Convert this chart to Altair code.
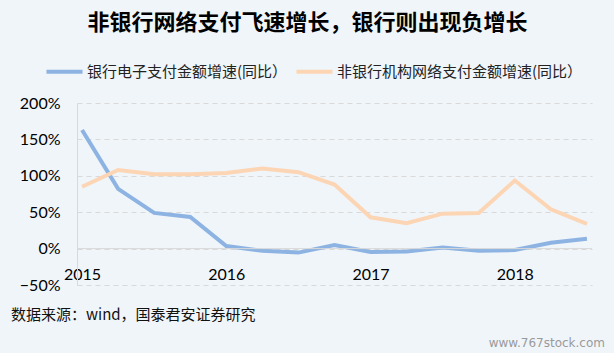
import altair as alt
import pandas as pd

quarters = [2015 + i * 0.25 for i in range(15)]
bank = [1.63, 0.82, 0.49, 0.435, 0.035, -0.03, -0.055, 0.05, -0.045, -0.04, 0.014, -0.03, -0.02, 0.08, 0.136]
nonbank = [0.85, 1.08, 1.02, 1.02, 1.04, 1.10, 1.05, 0.88, 0.43, 0.35, 0.48, 0.49, 0.935, 0.54, 0.34]
series_names = ["银行电子支付金额增速(同比）", "非银行机构网络支付金额增速(同比）"]
colors = ["#8db3e2", "#fcd5b5"]
year_ticks = [2015, 2016, 2017, 2018]
y_ticks = [-0.5, 0.0, 0.5, 1.0, 1.5, 2.0]

rows = []
for q, b, n in zip(quarters, bank, nonbank):
    rows.append({"t": q, "v": b, "s": series_names[0]})
    rows.append({"t": q, "v": n, "s": series_names[1]})
df = pd.DataFrame(rows)

FONT = "Noto Sans CJK SC"
NUM_FONT = "Lato"

xscale = alt.Scale(domain=[2014.965, 2018.535], nice=False, zero=False)
yscale = alt.Scale(domain=[-0.5, 2.0], nice=False, zero=False)

yaxis = alt.Axis(values=y_ticks, tickCount=12, format=".0%", title=None, grid=True,
                 gridDash=[5, 4], gridColor="#d9d9d9", gridWidth=1,
                 domain=True, domainColor="#d9d9d9", ticks=False,
                 labelPadding=17, labelFontSize=16, labelFont=NUM_FONT,
                 labelColor="#000000", labelOverlap=False, labelFlush=False,
                 labelBound=False)
xaxis = alt.Axis(values=year_ticks, format="d", title=None, grid=False,
                 domain=False, ticks=False, tickSize=0, offset=-36,
                 labelPadding=17, labelFontSize=16, labelFont=NUM_FONT,
                 labelColor="#000000", labelOverlap=False)

lines = alt.Chart(df).mark_line(strokeWidth=4).encode(
    x=alt.X("t:Q", scale=xscale, axis=xaxis),
    y=alt.Y("v:Q", scale=yscale, axis=yaxis),
    color=alt.Color("s:N", scale=alt.Scale(domain=series_names, range=colors),
                    sort=series_names,
                    legend=alt.Legend(title=None, orient="none", direction="horizontal",
                                      legendX=-33, legendY=-52, symbolType="stroke",
                                      symbolSize=1300, symbolStrokeWidth=4,
                                      labelFontSize=15, labelFont=FONT,
                                      labelColor="#222222", columnPadding=0,
                                      labelOffset=2, labelLimit=400)),
)

zero_df = pd.DataFrame({"z": [0.0]})
zero = alt.Chart(zero_df).mark_rule(color="#d9d9d9", strokeWidth=1).encode(
    y=alt.Y("z:Q", scale=yscale, axis=None)
)

source = alt.Chart(pd.DataFrame({"txt": ["数据来源：wind，国泰君安证券研究"]})).mark_text(
    align="left", baseline="middle", fontSize=15, font=FONT, color="#111111"
).encode(x=alt.value(-66), y=alt.value(212), text="txt:N")

mark = alt.Chart(pd.DataFrame({"txt": ["www.767stock.com"]})).mark_text(
    align="right", baseline="middle", fontSize=12, font="DejaVu Sans", color="#9a9a9a"
).encode(x=alt.value(528), y=alt.value(240), text="txt:N")

chart = alt.layer(lines, zero, source, mark).resolve_axis(y="independent").properties(
    width=515, height=182,
    padding={"left": 77, "top": 103, "right": 22, "bottom": 68},
    autosize=alt.AutoSizeParams(type="none"),
    background="#f0f5fa",
    title=alt.TitleParams("非银行网络支付飞速增长，银行则出现负增长", font=FONT,
                          fontSize=22, fontWeight="bold", color="#000000",
                          anchor="middle", dx=-27, offset=16),
).configure_view(stroke=None)

chart.save("out.html", embed_options={"renderer": "svg", "actions": False})
